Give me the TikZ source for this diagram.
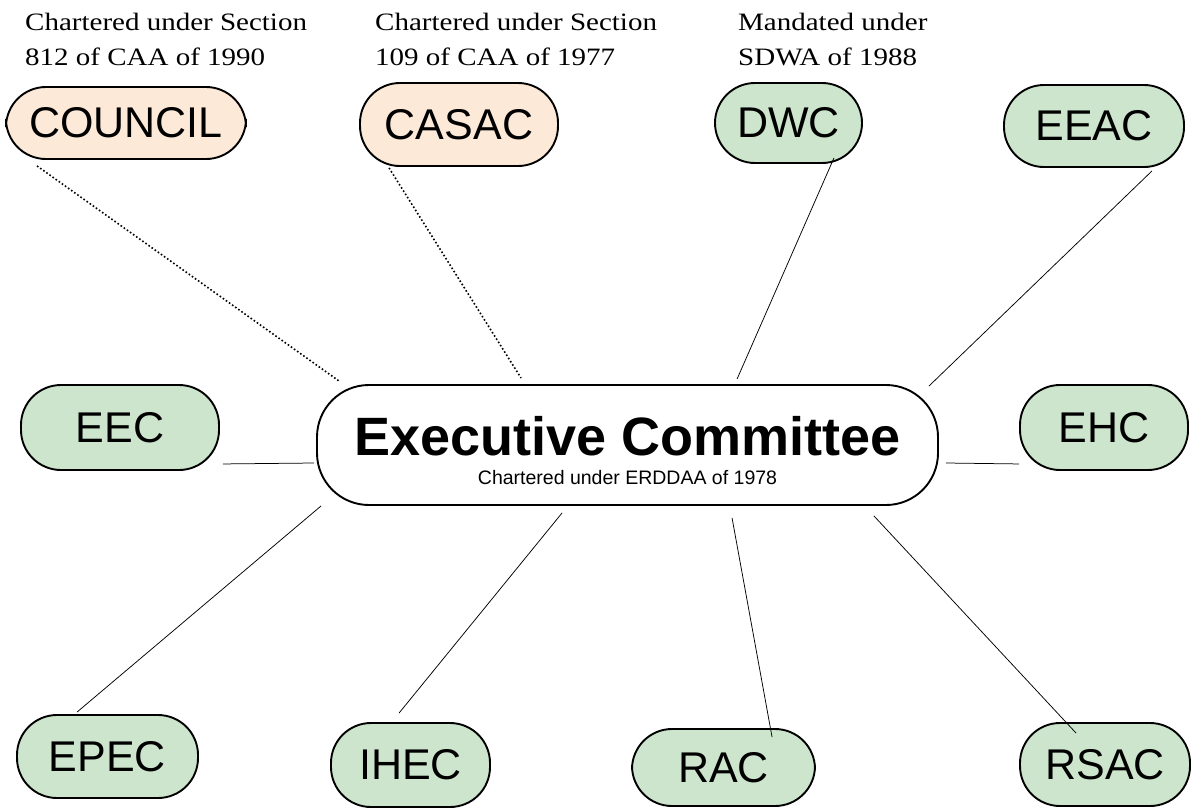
\documentclass[tikz,border=0pt]{standalone}
\usepackage{fontspec}
\setmainfont{Liberation Sans}
\newfontfamily\notefont[FakeStretch=1.16]{Liberation Serif}
\usetikzlibrary{calc}
\definecolor{peach}{RGB}{253,233,215}
\definecolor{sage}{RGB}{205,229,205}
\begin{document}
\begin{tikzpicture}[x=1pt,y=-1pt,
  unit/.style={draw=black, line width=1.9pt, rounded corners=40pt, inner sep=0pt,
    font=\fontsize{43}{48}\selectfont},
  statutory/.style={unit, fill=peach},
  standing/.style={unit, fill=sage},
  hub/.style={draw=black, line width=1.9pt, rounded corners=52pt, fill=white, inner sep=0pt},
  note/.style={anchor=base west, align=left, inner sep=0pt,
    font=\notefont\fontsize{25}{35}\selectfont},
  link/.style={line width=0.75pt},
  legal/.style={line width=1.6pt, dash pattern=on 1.6pt off 2.2pt}
]
\useasboundingbox (0,0) rectangle (1198,808);

% charter notes (anchored on the baseline of their second line)
\node[note] (note1) at (25,65) {Chartered under Section\\812 of CAA of 1990};
\node[note] (note2) at (375,65) {Chartered under Section\\109 of CAA of 1977};
\node[note] (note3) at (738,65) {Mandated under\\SDWA of 1988};

% central committee
\node[hub, minimum width=621pt, minimum height=120pt] (exec) at (627.5,445) {};
\node[anchor=base, inner sep=0pt, font=\bfseries\fontsize{54}{60}\selectfont]
  (exectitle) at ($(exec.center)+(0,10)$) {Executive Committee};
\node[anchor=base, inner sep=0pt, font=\fontsize{19.5}{22}\selectfont]
  (execsub) at ($(exec.center)+(0,39)$) {Chartered under ERDDAA of 1978};

% committees
\node[statutory, minimum width=240pt, minimum height=72pt] (council) at (126,123) {\raisebox{-6pt}{COUNCIL}};
\node[statutory, minimum width=198pt, minimum height=83pt] (casac) at (459,124.5) {CASAC};
\node[standing, minimum width=147pt, minimum height=80pt] (dwc) at (788.5,123) {DWC};
\node[standing, minimum width=180pt, minimum height=82pt] (eeac) at (1094,126) {EEAC};
\node[standing, minimum width=198pt, minimum height=85pt] (eec) at (120,427.5) {EEC};
\node[standing, minimum width=168pt, minimum height=85pt] (ehc) at (1104,427.5) {EHC};
\node[standing, minimum width=181pt, minimum height=83pt] (epec) at (107.5,756.5) {EPEC};
\node[standing, minimum width=159pt, minimum height=84pt] (ihec) at (410.5,765) {IHEC};
\node[standing, minimum width=183pt, minimum height=77pt] (rac) at (723.5,767.5) {\raisebox{-4pt}{RAC}};
\node[standing, minimum width=170pt, minimum height=83pt] (rsac) at (1105,764.5) {RSAC};

% connectors
\draw[legal] ($(council.south west)+(32,6)$) -- ($(exec.north west)+(23,-3)$);
\draw[legal] ($(casac.south west)+(30,1)$) -- ($(exec.north west)+(205,-6)$);
\draw[link] ($(dwc.south east)+(-29,-6)$) -- ($(exec.north west)+(421,-5)$);
\draw[link] ($(eeac.south east)+(-33,3)$) -- ($(exec.north east)+(-10,2)$);
\draw[link] ($(eec.south east)+(3,-7)$) -- ($(exec.west)+(-2,18)$);
\draw[link] ($(exec.east)+(7,18)$) -- ($(ehc.south west)+(0,-7)$);
\draw[link] ($(epec.north west)+(61,-2)$) -- ($(exec.south west)+(5,0)$);
\draw[link] ($(ihec.north west)+(69,-9)$) -- ($(exec.south west)+(246,7)$);
\draw[link] ($(rac.north west)+(141,9)$) -- ($(exec.south west)+(416,12)$);
\draw[link] ($(rsac.north west)+(57,11)$) -- ($(exec.south east)+(-65,10)$);
\end{tikzpicture}
\end{document}
